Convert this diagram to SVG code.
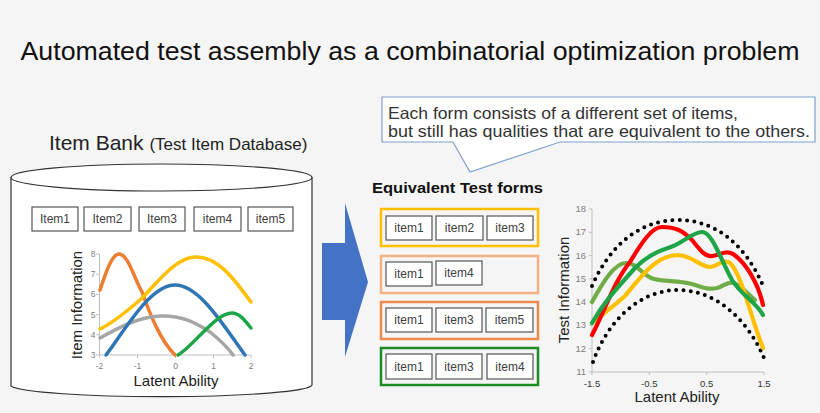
<svg xmlns="http://www.w3.org/2000/svg" width="820" height="413" viewBox="0 0 820 413">
<style>
text{font-family:"Liberation Sans",Arial,sans-serif;}
.ib{fill:#fff;stroke:#555;stroke-width:1.2;}
.it{font-size:12px;fill:#404040;text-anchor:middle;}
.ax{stroke:#bfbfbf;stroke-width:1;fill:none;}
.tk{font-size:8.5px;fill:#808080;text-anchor:middle;}
.tk2{font-size:9.5px;fill:#808080;text-anchor:end;}
.tk3{font-size:9.5px;fill:#333;text-anchor:middle;}
.cv{fill:none;stroke-width:3.5;stroke-linecap:round;stroke-linejoin:round;}
.cv2{fill:none;stroke-width:4.2;stroke-linecap:round;stroke-linejoin:round;}
.dot{fill:none;stroke:#000;stroke-width:4;stroke-linecap:round;stroke-dasharray:0 7.3;}
.lab{font-size:15px;fill:#222;text-anchor:middle;}
</style>
<rect width="820" height="413" fill="#f5f5f5"/>
<text x="410" y="60" font-size="26" text-anchor="middle" textLength="779" lengthAdjust="spacingAndGlyphs" fill="#111">Automated test assembly as a combinatorial optimization problem</text>

<g id="itembank">
<text x="49" y="150" font-size="21" fill="#222">Item Bank <tspan font-size="16.5" textLength="158" lengthAdjust="spacingAndGlyphs">(Test Item Database)</tspan></text>
<path d="M11,177 V386 A151,12 0 0 0 312,385 V177" fill="#fff" stroke="#333" stroke-width="1.2"/>
<ellipse cx="161.5" cy="177.5" rx="150.5" ry="13.5" fill="#fff" stroke="#333" stroke-width="1.2"/>
<g id="bank-items">
<rect class="ib" x="32" y="207" width="46" height="24"/><text class="it" x="55" y="223">Item1</text>
<rect class="ib" x="84" y="207" width="47" height="24"/><text class="it" x="107.5" y="223">Item2</text>
<rect class="ib" x="139" y="207" width="46" height="24"/><text class="it" x="162" y="223">Item3</text>
<rect class="ib" x="194" y="207" width="47" height="24"/><text class="it" x="217.5" y="223">item4</text>
<rect class="ib" x="248" y="207" width="45" height="24"/><text class="it" x="270.5" y="223">item5</text>
</g>
<g id="item-chart">
<path class="ax" d="M99.5,254 V355 H251"/>
<path class="ax" d="M96,254H99.5M96,274.2H99.5M96,294.4H99.5M96,314.6H99.5M96,334.8H99.5M96,355H99.5M99.5,355v3M137.5,355v3M175.5,355v3M213.5,355v3M251,355v3"/>
<text class="tk" x="93" y="257" text-anchor="end">8</text><text class="tk" x="93" y="277" text-anchor="end">7</text><text class="tk" x="93" y="297" text-anchor="end">6</text><text class="tk" x="93" y="318" text-anchor="end">5</text><text class="tk" x="93" y="338" text-anchor="end">4</text><text class="tk" x="93" y="358" text-anchor="end">3</text>
<text class="tk" x="99.5" y="369">-2</text><text class="tk" x="137.5" y="369">-1</text><text class="tk" x="175.5" y="369">0</text><text class="tk" x="213.5" y="369">1</text><text class="tk" x="251" y="369">2</text>
<path class="cv" stroke="#ed7d31" d="M100,290 C106,272 112,254 119,254 C128,254 134,278 142,292 C150,314 160,340 175,355"/>
<path class="cv" stroke="#ffc000" d="M100,329 C115,322 128,310 140,300 C158,282 175,258 195,257 C220,256 238,285 251,302"/>
<path class="cv" stroke="#a5a5a5" d="M100,338 C118,328 138,317 160,316 C180,315 195,322 210,332 C220,340 228,348 233,355"/>
<path class="cv" stroke="#2e75b6" d="M106,355 C125,330 150,285 175,285 C200,285 225,328 245,355"/>
<path class="cv" stroke="#1ea548" d="M178,355 C195,345 215,313 232,313 C240,313 246,322 251,328"/>
<text class="lab" x="176" y="386">Latent Ability</text>
<text class="lab" transform="translate(82,305) rotate(-90)">Item Information</text>
</g>
</g>

<g id="connectors">
<path id="big-arrow" d="M322,243 H345 V203 L368,282 L345,357 V320 H322 Z" fill="#4472c4"/>
</g>

<g id="callout">
<path d="M382,97 H815 V142 H560 L470,172 L453,142 H382 Z" fill="#fff" stroke="#7f9fcf" stroke-width="1.2"/>
<text x="388" y="119" font-size="16.5" fill="#333" textLength="350" lengthAdjust="spacingAndGlyphs">Each form consists of a different set of items,</text>
<text x="388" y="137" font-size="16.5" fill="#333" textLength="422" lengthAdjust="spacingAndGlyphs">but still has qualities that are equivalent to the others.</text>
</g>

<text x="372" y="193" font-size="15" font-weight="bold" fill="#111" textLength="171" lengthAdjust="spacingAndGlyphs">Equivalent Test forms</text>

<g id="form1">
<rect x="381" y="209" width="157" height="37" fill="none" stroke="#ffc000" stroke-width="2.5"/>
<rect class="ib" x="386" y="216" width="46" height="24"/><text class="it" x="409" y="232">item1</text>
<rect class="ib" x="436" y="216" width="47" height="24"/><text class="it" x="459.5" y="232">item2</text>
<rect class="ib" x="487" y="216" width="46" height="24"/><text class="it" x="510" y="232">item3</text>
</g>
<g id="form2">
<rect x="381" y="256" width="157" height="37" fill="none" stroke="#f4b183" stroke-width="2.5"/>
<rect class="ib" x="386" y="262" width="46" height="24"/><text class="it" x="409" y="278">item1</text>
<rect class="ib" x="436" y="261" width="46" height="24"/><text class="it" x="459" y="277">item4</text>
</g>
<g id="form3">
<rect x="381" y="302" width="157" height="37" fill="none" stroke="#ed8b4f" stroke-width="2.5"/>
<rect class="ib" x="386" y="308" width="46" height="24"/><text class="it" x="409" y="324">item1</text>
<rect class="ib" x="436" y="308" width="46" height="24"/><text class="it" x="459" y="324">item3</text>
<rect class="ib" x="486" y="308" width="47" height="24"/><text class="it" x="509.5" y="324">item5</text>
</g>
<g id="form4">
<rect x="381" y="348" width="157" height="37" fill="none" stroke="#1e8c24" stroke-width="2.5"/>
<rect class="ib" x="386" y="354" width="46" height="25"/><text class="it" x="409" y="371">item1</text>
<rect class="ib" x="436" y="354" width="46" height="25"/><text class="it" x="459" y="371">item3</text>
<rect class="ib" x="487" y="354" width="46" height="25"/><text class="it" x="510" y="371">item4</text>
</g>

<g id="test-chart">
<path class="ax" d="M592,209 V372 H764"/>
<path class="ax" d="M589,209H592M589,232.3H592M589,255.6H592M589,278.9H592M589,302.1H592M589,325.4H592M589,348.7H592M589,372H592M592,372v3M649.3,372v3M706.7,372v3M764,372v3"/>
<text class="tk2" x="586" y="212">18</text>
<text class="tk2" x="586" y="235">17</text>
<text class="tk2" x="586" y="259">16</text>
<text class="tk2" x="586" y="282">15</text>
<text class="tk2" x="586" y="305">14</text>
<text class="tk2" x="586" y="328">13</text>
<text class="tk2" x="586" y="352">12</text>
<text class="tk2" x="586" y="375">11</text>
<text class="tk3" x="592" y="387">-1.5</text>
<text class="tk3" x="649.3" y="387">-0.5</text>
<text class="tk3" x="706.7" y="387">0.5</text>
<text class="tk3" x="764" y="387">1.5</text>
<path class="dot" d="M592,286 C610,245 640,220 678,220 C716,220 746,245 764,288"/>
<path class="dot" d="M593,362 C608,320 640,290 678,290 C716,290 748,320 764,358"/>
<path class="cv2" stroke="#70ad47" d="M592,302 C602,284 614,263 626,263 C638,263 642,276 654,279 C667,282 677,280 692,284 C702,287 707,290 717,288 C724,286 728,281 734,283 C742,287 748,294 755,300"/>
<path class="cv2" stroke="#ffc000" d="M592,323 C605,312 615,305 625,296 C640,278 655,256 677,255 C692,255 700,267 710,267 C718,267 722,258 730,263 C742,275 750,315 763,348"/>
<path class="cv2" stroke="#ff0000" d="M592,335 C605,310 615,280 630,262 C642,242 652,227 662,227 C675,227 682,230 692,240 C700,250 705,257 712,256 C720,255 725,250 733,254 C745,262 758,282 763,305"/>
<path class="cv2" stroke="#1ea548" d="M592,323 C605,300 620,285 635,268 C645,258 655,252 668,248 C682,244 692,232 702,232 C712,232 720,258 732,280 C742,296 756,302 763,315"/>
<text class="lab" x="677" y="402">Latent Ability</text>
<text class="lab" transform="translate(569,290) rotate(-90)">Test Information</text>
</g>
</svg>
